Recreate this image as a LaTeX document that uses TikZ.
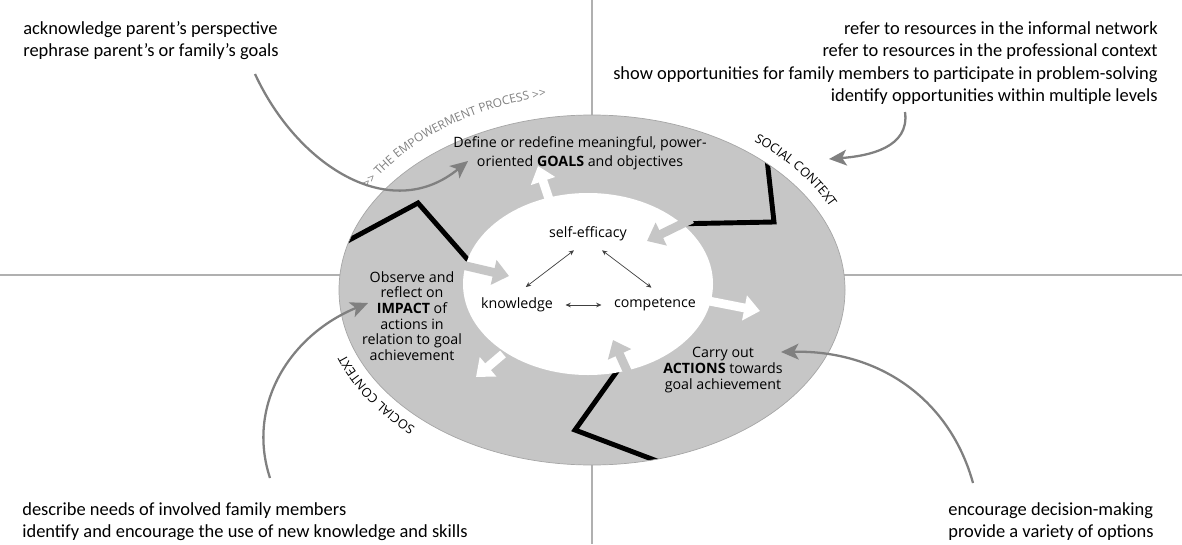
\documentclass[tikz,border=0pt]{standalone}
\usepackage{fontspec}
\setmainfont{Carlito}
\newfontfamily\phasefont{Open Sans}
\usetikzlibrary{arrows.meta,decorations.text}
\definecolor{ringgray}{HTML}{C6C6C6}
\definecolor{notegray}{HTML}{808080}
\definecolor{axisgray}{HTML}{B0B0B0}
\newcommand{\phasesize}{\phasefont\fontsize{8.1}{8.9}\selectfont}
\newcommand{\ringsize}{\phasefont\fontsize{7.2}{8}\selectfont}

\begin{document}
\begin{tikzpicture}[x=0.02cm,y=-0.02cm,
    note/.style={font=\fontsize{10.5}{12.8}\selectfont,inner sep=0pt},
    phase/.style={font=\phasesize,align=center,inner sep=0pt},
    core/.style={font=\phasesize,inner sep=1pt},
    link/.style={draw=black!75,line width=0.4pt,{Stealth[length=3pt,width=2.6pt]}-{Stealth[length=3pt,width=2.6pt]}},
    outflow/.style={white,line width=5pt,-{Triangle[length=9pt,width=14pt]}},
    inflow/.style={outflow,ringgray},
    hint/.style={notegray,line width=1.3pt,-{Stealth[length=10pt,width=9pt,inset=2.5pt]}},
    zigzag/.style={line width=2.8pt,line join=miter},
    ringlabel/.style={decorate,decoration={text along path,text align=center,text color=#1}},
  ]
  \useasboundingbox (0,0) rectangle (1182,544);
  \draw[axisgray,line width=0.6pt] (0,275) -- (1182,275);
  \draw[axisgray,line width=0.6pt] (592,0) -- (592,544);

  % ring and phase borders
  \coordinate (c) at (592,290);
  \coordinate (ci) at (588,284);
  \fill[ringgray] (c) ellipse[x radius=253,y radius=175];
  \begin{scope}
    \clip (c) ellipse[x radius=253,y radius=175];
    \draw[zigzag] (340,245) -- (418,203) -- (475,268);
    \draw[zigzag] (766,150) -- (774,222) -- (670,224);
    \draw[zigzag] (620,367) -- (575,430) -- (665,464);
  \end{scope}
  \draw[black!35,line width=0.4pt] (c) ellipse[x radius=253,y radius=175];
  \fill[white] (ci) ellipse[x radius=125,y radius=91];

  % flows between core and phases
  \coordinate (g1) at (549,199);  \coordinate (g2) at (538,166);
  \coordinate (r1) at (692,219);  \coordinate (r2) at (647,241);
  \coordinate (l1) at (462,265);  \coordinate (l2) at (509,276);
  \coordinate (a1) at (709,301);  \coordinate (a2) at (760,311);
  \coordinate (b1) at (628,373);  \coordinate (b2) at (613,340);
  \coordinate (i1) at (503,354);  \coordinate (i2) at (476,377);
  \draw[outflow] (g1) -- (g2);
  \draw[inflow] (r1) -- (r2);
  \draw[inflow] (l1) -- (l2);
  \draw[outflow] (a1) -- (a2);
  \draw[inflow] (b1) -- (b2);
  \draw[outflow] (i1) -- (i2);

  \node[phase,font=\phasefont\fontsize{8.1}{10.8}\selectfont] (goals) at (580,153)
    {Define or redefine meaningful, power-\\oriented \textbf{GOALS} and objectives};
  \node[phase] (impact) at (412,316) {Observe and\\reflect on\\\textbf{IMPACT} of\\actions in\\relation to goal\\achievement};
  \node[phase] (actions) at (723,370) {Carry out\\\textbf{ACTIONS} towards\\goal achievement};

  \node[core] (efficacy) at (588,234) {self-efficacy};
  \node[core] (knowledge) at (517,305) {knowledge};
  \node[core] (competence) at (655,305) {competence};
  \draw[link] ([xshift=-8pt,yshift=-4pt]efficacy.south) -- ([xshift=5pt,yshift=5pt]knowledge.north);
  \draw[link] ([xshift=8pt,yshift=-4pt]efficacy.south) -- ([xshift=-2pt,yshift=5pt]competence.north);
  \draw[link,shorten <=6pt,shorten >=6pt] (knowledge) -- (competence);

  % labels round the ring
  \path[ringlabel=notegray,decoration={text={|\phasefont\fontsize{6.8}{8}\selectfont|>> THE EMPOWERMENT PROCESS >>}}]
    ([shift={(-155:262 and 196)}]c) arc[start angle=-155,end angle=-95,x radius=262,y radius=196];
  \path[ringlabel=black,decoration={text={|\ringsize|SOCIAL CONTEXT}}]
    ([shift={(-62:265 and 188)}]c) arc[start angle=-62,end angle=-14,x radius=265,y radius=188];
  \path[ringlabel=black,decoration={text={|\ringsize|SOCIAL CONTEXT}}]
    ([shift={(123:263 and 185)}]c) arc[start angle=123,end angle=171,x radius=263,y radius=185];

  % practice notes
  \node[note,anchor=north west,align=left] (perspective) at (23,21)
    {acknowledge parent’s perspective\\rephrase parent’s or family’s goals};
  \node[note,anchor=north east,align=right] (resources) at (1158,21)
    {refer to resources in the informal network\\refer to resources in the professional context\\show opportunities for family members to participate in problem-solving\\identify opportunities within multiple levels};
  \node[note,anchor=north west,align=left] (needs) at (22,502)
    {describe needs of involved family members\\identify and encourage the use of new knowledge and skills};
  \node[note,anchor=north west,align=left] (options) at (948,502)
    {encourage decision-making\\provide a variety of options};

  \coordinate (hA) at (255,74);   \coordinate (tA) at (468,161);
  \coordinate (hB) at (905,112);  \coordinate (tB) at (829,159);
  \coordinate (hC) at (270,478);  \coordinate (tC) at (368,303);
  \coordinate (hD) at (973,483);  \coordinate (tD) at (781,352);
  \draw[hint] (hA) .. controls (297,165) and (390,225) .. (tA);
  \draw[hint] (hB) .. controls (910,148) and (868,156) .. (tB);
  \draw[hint] (hC) .. controls (246,405) and (290,335) .. (tC);
  \draw[hint] (hD) .. controls (950,400) and (880,350) .. (tD);
\end{tikzpicture}
\end{document}
